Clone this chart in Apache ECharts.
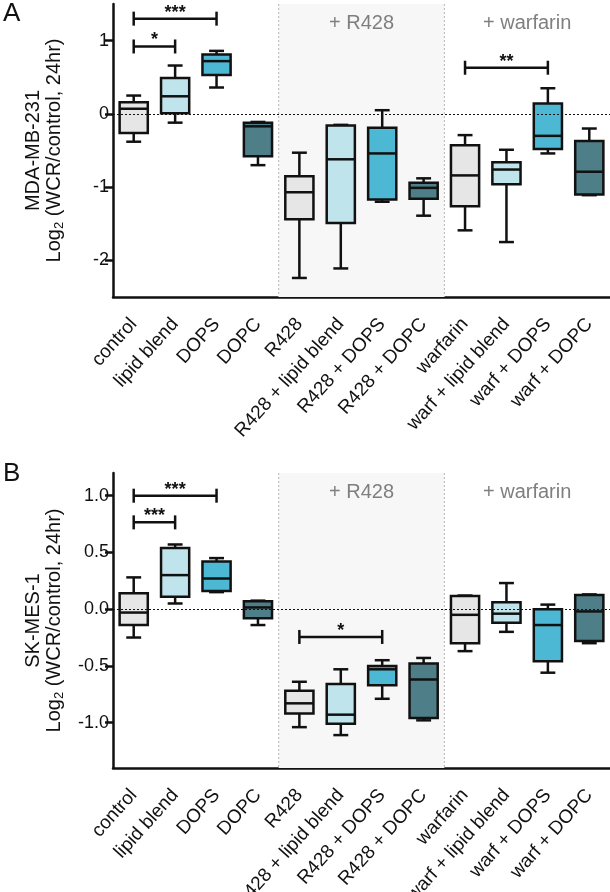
<!DOCTYPE html>
<html>
<head>
<meta charset="utf-8">
<script src="https://cdn.jsdelivr.net/npm/echarts@6/dist/echarts.min.js"></script>
<style>
html, body { margin: 0; padding: 0; background: #fff; }
#chart { width: 610px; height: 892px; }
</style>
</head>
<body>
<div id="chart"></div>
<script>
// treatments, same order in both panels
const categories = ['control', 'lipid blend', 'DOPS', 'DOPC', 'R428', 'R428 + lipid blend',
  'R428 + DOPS', 'R428 + DOPC', 'warfarin', 'warf + lipid blend', 'warf + DOPS', 'warf + DOPC'];

// [whisker low, q1, median, q3, whisker high]
const boxesA = [
  [-0.38, -0.26, 0.07, 0.16, 0.25],
  [-0.12, 0.01, 0.24, 0.49, 0.66],
  [0.36, 0.53, 0.72, 0.81, 0.86],
  [-0.70, -0.58, -0.17, -0.12, -0.11],
  [-2.24, -1.44, -1.07, -0.85, -0.53],
  [-2.11, -1.49, -0.62, -0.16, -0.15],
  [-1.20, -1.17, -0.54, -0.19, 0.05],
  [-1.39, -1.16, -1.01, -0.94, -0.88],
  [-1.59, -1.26, -0.84, -0.43, -0.29],
  [-1.75, -0.96, -0.76, -0.66, -0.49],
  [-0.54, -0.48, -0.30, 0.14, 0.35],
  [-1.11, -1.10, -0.79, -0.37, -0.20]
];
const boxesB = [
  [-0.25, -0.14, -0.03, 0.14, 0.28],
  [0.05, 0.11, 0.30, 0.54, 0.57],
  [0.15, 0.16, 0.27, 0.42, 0.45],
  [-0.14, -0.08, 0.015, 0.07, 0.075],
  [-1.04, -0.92, -0.83, -0.72, -0.64],
  [-1.11, -1.01, -0.93, -0.66, -0.53],
  [-0.79, -0.67, -0.53, -0.50, -0.45],
  [-0.98, -0.96, -0.62, -0.48, -0.43],
  [-0.37, -0.30, -0.05, 0.115, 0.12],
  [-0.20, -0.12, -0.04, 0.06, 0.23],
  [-0.56, -0.46, -0.14, 0.00, 0.04],
  [-0.30, -0.28, -0.02, 0.125, 0.13]
];

// significance bars: [from, to, y]
const barsA = [[0, 2, 1.3], [0, 1, 0.92], [8, 10, 0.63]];
const starsA = ['***', '*', '**'];
const barsB = [[0, 2, 1.0], [0, 1, 0.765], [4, 6, -0.245]];
const starsB = ['***', '***', '*'];

// treatment groups: [first, last]
const groups = [[4, 7], [8, 11]];
const groupNames = ['+ R428', '+ warfarin'];
const groupShaded = [1, 0];

const ticksA = [-2, -1, 0, 1];
const ticksB = [-1.0, -0.5, 0, 0.5, 1.0];

const boxColors = ['#e6e6e6', '#bfe4ec', '#4db8d4', '#4e7f89'];
const FONT = 'Liberation Sans, Arial, sans-serif';
const LW = 2.5;

function renderBox(params, api) {
  const i = api.value(0);
  const lo = api.coord([i, api.value(1)]);
  const q1 = api.coord([i, api.value(2)]);
  const med = api.coord([i, api.value(3)]);
  const q3 = api.coord([i, api.value(4)]);
  const hi = api.coord([i, api.value(5)]);
  const band = api.size([1, 0])[0];
  const bw = band * 0.68, cw = band * 0.36;
  const x = lo[0];
  const line = { stroke: '#111', lineWidth: LW };
  return {
    type: 'group',
    children: [
      { type: 'line', shape: { x1: x, y1: hi[1], x2: x, y2: q3[1] }, style: line },
      { type: 'line', shape: { x1: x, y1: lo[1], x2: x, y2: q1[1] }, style: line },
      { type: 'line', shape: { x1: x - cw / 2, y1: hi[1], x2: x + cw / 2, y2: hi[1] }, style: line },
      { type: 'line', shape: { x1: x - cw / 2, y1: lo[1], x2: x + cw / 2, y2: lo[1] }, style: line },
      { type: 'rect', shape: { x: x - bw / 2, y: q3[1], width: bw, height: q1[1] - q3[1] },
        style: { fill: boxColors[i % 4], stroke: '#111', lineWidth: LW } },
      { type: 'line', shape: { x1: x - bw / 2, y1: med[1], x2: x + bw / 2, y2: med[1] }, style: line }
    ]
  };
}

function makeBarRender(stars) {
  return function (params, api) {
    const a = api.coord([api.value(0), api.value(2)]);
    const b = api.coord([api.value(1), api.value(2)]);
    const line = { stroke: '#111', lineWidth: LW };
    return {
      type: 'group',
      children: [
        { type: 'line', shape: { x1: a[0], y1: a[1], x2: b[0], y2: b[1] }, style: line },
        { type: 'line', shape: { x1: a[0], y1: a[1] - 7, x2: a[0], y2: a[1] + 7 }, style: line },
        { type: 'line', shape: { x1: b[0], y1: b[1] - 7, x2: b[0], y2: b[1] + 7 }, style: line },
        { type: 'text', style: { text: stars[params.dataIndex], x: (a[0] + b[0]) / 2, y: a[1] - 6,
          align: 'center', verticalAlign: 'middle', fontSize: 18, fontWeight: 'bold',
          fontFamily: FONT, fill: '#111' } }
      ]
    };
  };
}

function renderGroup(params, api) {
  const band = api.size([1, 0])[0];
  const x0 = api.coord([api.value(0), 0])[0] - band / 2;
  const x1 = api.coord([api.value(1), 0])[0] + band / 2;
  const cs = params.coordSys;
  const children = [];
  if (groupShaded[params.dataIndex]) {
    const dash = { stroke: '#b8b8b8', lineWidth: 1, lineDash: [2, 2] };
    children.push(
      { type: 'rect', shape: { x: x0, y: cs.y, width: x1 - x0, height: cs.height }, style: { fill: '#f7f7f7' } },
      { type: 'line', shape: { x1: x0, y1: cs.y, x2: x0, y2: cs.y + cs.height }, style: dash },
      { type: 'line', shape: { x1: x1, y1: cs.y, x2: x1, y2: cs.y + cs.height }, style: dash }
    );
  }
  children.push({ type: 'text', style: { text: groupNames[params.dataIndex], x: (x0 + x1) / 2, y: cs.y + 19,
    align: 'center', verticalAlign: 'middle', fontSize: 20, fontFamily: FONT, fill: '#7f7f7f' } });
  return { type: 'group', children: children };
}

function xAxisFor(gridIndex) {
  return {
    type: 'category', gridIndex: gridIndex, data: categories,
    axisLine: { onZero: false, lineStyle: { color: '#111', width: LW } },
    axisTick: { alignWithLabel: true, length: 8, lineStyle: { color: '#111', width: LW } },
    axisLabel: { interval: 0, rotate: 48, margin: 24, fontSize: 19, color: '#111', fontFamily: FONT }
  };
}

function yAxisFor(gridIndex, min, max, ticks, cell, fmt) {
  return {
    type: 'value', gridIndex: gridIndex, min: min, max: max,
    name: '{t|' + cell + '}\n{t|Log}{s|2}{t| (WCR/control, 24hr)}',
    nameLocation: 'middle', nameGap: 47,
    nameTextStyle: {
      color: '#111', fontFamily: FONT,
      rich: {
        t: { fontSize: 20, lineHeight: 18, color: '#111', fontFamily: FONT },
        s: { fontSize: 13, lineHeight: 24, verticalAlign: 'bottom', color: '#111', fontFamily: FONT }
      }
    },
    axisLine: { show: true, lineStyle: { color: '#111', width: LW } },
    axisTick: { show: true, length: 8, customValues: ticks, lineStyle: { color: '#111', width: LW } },
    axisLabel: { customValues: ticks, margin: 4, fontSize: 18, color: '#111', fontFamily: FONT, formatter: fmt },
    splitLine: { show: false }
  };
}

function panelSeries(idx, boxes, bars, stars) {
  return [
    {
      type: 'custom', xAxisIndex: idx, yAxisIndex: idx, z: 1, silent: true,
      renderItem: renderGroup,
      data: groups.map(g => [g[0], g[1], 0]),
      encode: { x: [0, 1], y: 2 },
      markLine: {
        silent: true, symbol: 'none', label: { show: false },
        lineStyle: { color: '#111', width: 1, type: [2, 2] },
        data: [{ yAxis: 0 }]
      }
    },
    {
      type: 'custom', xAxisIndex: idx, yAxisIndex: idx, z: 3,
      renderItem: renderBox,
      data: boxes.map((b, i) => [i].concat(b)),
      encode: { x: 0, y: [1, 2, 3, 4, 5] }
    },
    {
      type: 'custom', xAxisIndex: idx, yAxisIndex: idx, z: 3,
      renderItem: makeBarRender(stars),
      data: bars,
      encode: { x: [0, 1], y: 2 }
    }
  ];
}

const chart = echarts.init(document.getElementById('chart'), null, { renderer: 'canvas' });
chart.setOption({
  animation: false,
  backgroundColor: '#fff',
  textStyle: { fontFamily: FONT },
  graphic: [
    { type: 'text', left: 3, top: 1, style: { text: 'A', fontSize: 26, fontFamily: FONT, fill: '#111' } },
    { type: 'text', left: 3, top: 461, style: { text: 'B', fontSize: 26, fontFamily: FONT, fill: '#111' } }
  ],
  grid: [
    { left: 113, right: 0, top: 4, height: 293, outerBoundsMode: 'none' },
    { left: 113, right: 0, top: 473, height: 295, outerBoundsMode: 'none' }
  ],
  xAxis: [xAxisFor(0), xAxisFor(1)],
  yAxis: [
    yAxisFor(0, -2.5, 1.5, ticksA, 'MDA-MB-231', v => String(v)),
    yAxisFor(1, -1.4, 1.2, ticksB, 'SK-MES-1', v => v.toFixed(1))
  ],
  series: panelSeries(0, boxesA, barsA, starsA).concat(panelSeries(1, boxesB, barsB, starsB))
});
</script>
</body>
</html>
